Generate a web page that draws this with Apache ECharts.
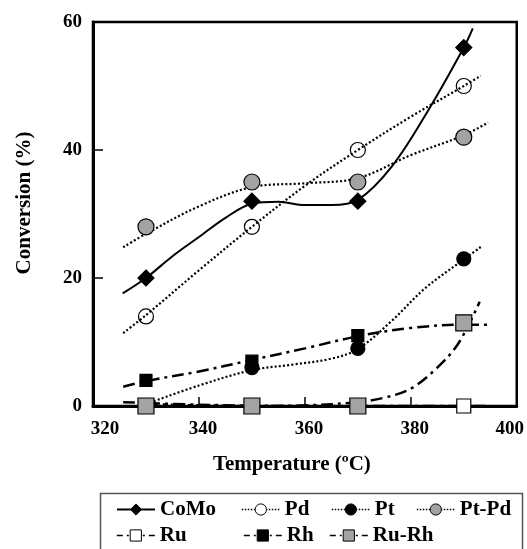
<!DOCTYPE html>
<html>
<head>
<meta charset="utf-8">
<script src="https://cdn.jsdelivr.net/npm/echarts@6/dist/echarts.min.js"></script>
<style>
  html, body { margin: 0; padding: 0; background: #fff; }
  #chart { width: 527px; height: 549px; }
</style>
</head>
<body>
<div id="chart"></div>
<script>
// Reaction temperatures (°C)
const temperatures = [330, 350, 370, 390];

// Conversion (%) of each catalyst at those temperatures
const convCoMo = [20, 32, 32, 56];
const convPd   = [14, 28, 40, 50];
const convPt   = [0, 6, 9, 23];
const convPtPd = [28, 35, 35, 42];
const convRu   = [0, 0, 0, 0];
const convRh   = [4, 7, 11, 13];
const convRuRh = [0, 0, 0, 13];

// Trend curves, [temperature, conversion] pairs
const trendCoMo = [[325.6, 17.6], [330, 20], [335, 23.4], [340, 26.4], [345, 29.4], [350, 31.6], [355, 31.9], [360, 31.4], [365, 31.4], [370, 32.2], [376.4, 37.4], [383.3, 46.2], [390, 56], [391.7, 59]];
const trendPd   = [[325.7, 11.4], [330, 14.2], [340, 21.2], [350, 28], [360, 34.4], [370, 40], [380, 45.2], [390, 50], [393.2, 51.6]];
const trendPt   = [[330, 0.3], [340, 3.2], [350, 5.6], [358, 6.5], [365, 7.4], [370, 8.9], [376.4, 13.3], [382.7, 18.4], [390, 22.9], [393.3, 24.9]];
const trendPtPd = [[325.7, 24.8], [330, 26.9], [340, 31.2], [350, 34.2], [360, 34.8], [370, 35.6], [380, 39.2], [390, 42.3], [394.6, 44.3]];
const trendRu   = [[325.7, 0.6], [340, 0.2], [360, 0], [380, 0], [394.5, 0]];
const trendRh   = [[325.7, 3], [330, 3.9], [340, 5.4], [350, 7.2], [360, 9], [370, 10.9], [380, 12.2], [390, 12.7], [395, 12.7]];
const trendRuRh = [[330, 0.3], [340, 0.1], [350, 0], [360, 0.1], [370, 0.6], [375, 1.3], [380, 2.7], [385, 6], [389, 9.8], [393, 16.3]];

// Axis ticks
const xTicks = [320, 340, 360, 380, 400];
const yTicks = [0, 20, 40, 60];

const serif = 'Liberation Serif';
const GRAY = '#a3a3a3';
const DOTTED = [2, 2.2];
const DASHDOT = [12, 5, 3, 5];

const catalysts = [
  { name: 'CoMo',  values: convCoMo, trend: trendCoMo, symbol: 'diamond', size: 16, fill: '#000', line: 'solid', lw: 2 },
  { name: 'Pd',    values: convPd,   trend: trendPd,   symbol: 'circle',  size: 15, fill: 'rgba(255,255,255,0)', line: DOTTED, lw: 2.2 },
  { name: 'Pt',    values: convPt,   trend: trendPt,   symbol: 'circle',  size: 14, fill: '#000', line: DOTTED, lw: 2.2 },
  { name: 'Pt-Pd', values: convPtPd, trend: trendPtPd, symbol: 'circle',  size: 16, fill: GRAY,   line: DOTTED, lw: 2.2 },
  { name: 'Ru',    values: convRu,   trend: trendRu,   symbol: 'rect',    size: 14, fill: '#fff', line: DASHDOT, lw: 2.5 },
  { name: 'Rh',    values: convRh,   trend: trendRh,   symbol: 'rect',    size: 12, fill: '#000', line: DASHDOT, lw: 2.5 },
  { name: 'Ru-Rh', values: convRuRh, trend: trendRuRh, symbol: 'rect',    size: 16, fill: GRAY,   line: DASHDOT, lw: 2.5 }
];

const series = [];
catalysts.forEach(c => {
  // fitted curve
  series.push({
    name: c.name, type: 'line', data: c.trend, smooth: 0.35,
    showSymbol: false, symbol: c.symbol, silent: true, z: 2,
    lineStyle: { color: '#000', width: c.lw, type: c.line, cap: 'butt' },
    itemStyle: { color: c.fill, borderColor: '#000' }
  });
  // measured points
  series.push({
    name: c.name, type: 'scatter', z: 3, clip: false,
    data: temperatures.map((t, i) => [t, c.values[i]]),
    symbol: c.symbol, symbolSize: c.size,
    itemStyle: { color: c.fill, borderColor: '#000', borderWidth: 1.2, opacity: 1 }
  });
});

// Legend entries laid out in two rows
const legendPlaces = {
  'CoMo':  [116, 499], 'Pd': [241, 499], 'Pt': [331, 499], 'Pt-Pd': [416, 499],
  'Ru':    [116, 525], 'Rh': [243, 525], 'Ru-Rh': [329, 525]
};
const legendText = { fontFamily: serif, fontWeight: 'bold', fontSize: 21, color: '#000' };
const legends = catalysts.map(c => ({
  data: [{
    name: c.name,
    itemStyle: { color: c.fill === 'rgba(255,255,255,0)' ? '#fff' : c.fill, borderColor: '#000', borderWidth: 1 },
    lineStyle: { color: '#000', width: c.name === 'CoMo' ? 2 : 1.6, type: c.name === 'CoMo' ? 'solid' : (c.line === DOTTED ? [1.5, 1.5] : [6, 4, 2, 4]) }
  }],
  left: legendPlaces[c.name][0], top: legendPlaces[c.name][1],
  orient: 'horizontal', padding: 0, itemWidth: 38, itemHeight: 14,
  selectedMode: false, textStyle: legendText
}));

const tickFont = { fontFamily: serif, fontWeight: 'bold', fontSize: 19, color: '#000' };

const option = {
  animation: false,
  backgroundColor: '#fff',
  grid: { left: 93, right: 8, top: 22, bottom: 143, show: true, borderColor: '#000', borderWidth: 2.5, backgroundColor: 'transparent' },
  xAxis: {
    type: 'value', min: xTicks[0], max: xTicks[xTicks.length - 1], interval: xTicks[1] - xTicks[0],
    name: 'Temperature (ºC)', nameLocation: 'middle', nameGap: 48,
    nameTextStyle: { fontFamily: serif, fontWeight: 'bold', fontSize: 21, color: '#000', padding: [0, 26, 0, 0] },
    axisLine: { lineStyle: { color: '#000', width: 3 } },
    axisTick: { inside: true, length: 9, lineStyle: { color: '#000', width: 1.5 } },
    splitLine: { show: false },
    axisLabel: Object.assign({}, tickFont, {
      margin: 14,
      formatter: v => v === xTicks[0] ? '{l|' + v + '}' : v === xTicks[xTicks.length - 1] ? '{r|' + v + '}' : '{m|' + v + '}',
      rich: {
        l: Object.assign({ padding: [0, 0, 0, 24] }, tickFont),
        m: Object.assign({ padding: [0, 0, 0, 8] }, tickFont),
        r: Object.assign({ padding: [0, 14, 0, 0] }, tickFont)
      }
    })
  },
  yAxis: {
    type: 'value', min: yTicks[0], max: yTicks[yTicks.length - 1], interval: yTicks[1] - yTicks[0],
    name: 'Conversion (%)', nameLocation: 'middle', nameGap: 58, nameRotate: 90,
    nameTextStyle: { fontFamily: serif, fontWeight: 'bold', fontSize: 21, color: '#000', padding: [0, 0, 0, 22] },
    axisLine: { lineStyle: { color: '#000', width: 3 } },
    axisTick: { inside: true, length: 10, lineStyle: { color: '#000', width: 1.5 } },
    splitLine: { show: false },
    axisLabel: Object.assign({}, tickFont, { margin: 11 })
  },
  legend: legends,
  graphic: [{
    type: 'rect', left: 98, top: 491, silent: true,
    shape: { width: 422, height: 80 },
    style: { fill: 'none', stroke: '#555', lineWidth: 1.5 }
  }],
  series: series
};

const chart = echarts.init(document.getElementById('chart'), null, { renderer: 'canvas' });
chart.setOption(option);
</script>
</body>
</html>
